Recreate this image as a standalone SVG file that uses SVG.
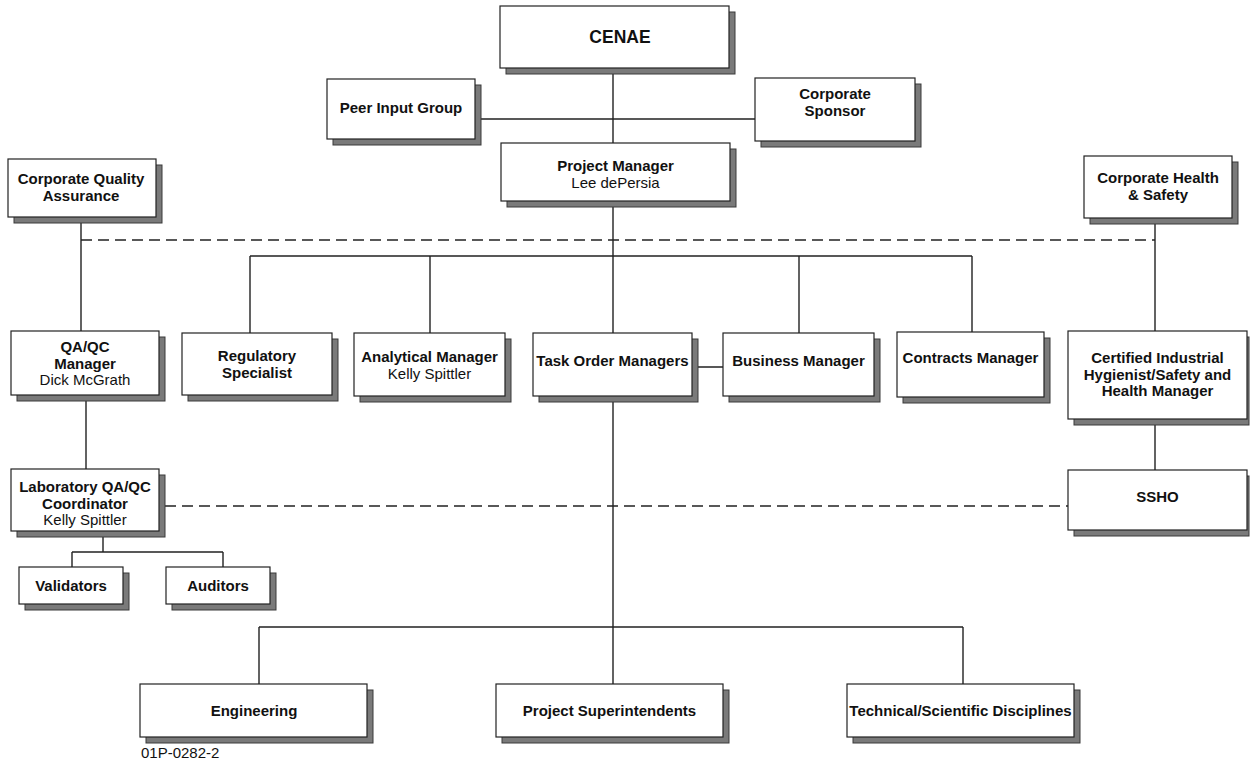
<svg xmlns="http://www.w3.org/2000/svg" width="1251" height="761" viewBox="0 0 1251 761">
<defs>
<style>
.sh{fill:#7a7a7a;stroke:#3a3a3a;stroke-width:1}
.bx{fill:#fff;stroke:#222;stroke-width:1.2}
.b{font-family:"Liberation Sans",Arial,sans-serif;font-weight:bold;font-size:15px;fill:#111;text-anchor:middle}
.r{font-family:"Liberation Sans",Arial,sans-serif;font-size:15px;fill:#111;text-anchor:middle}
.ln{stroke:#222;stroke-width:1.4;fill:none}
.dl{stroke:#222;stroke-width:1.4;fill:none;stroke-dasharray:11,6}
</style>
</defs>
<rect width="1251" height="761" fill="#fff"/>
<g id="connectors">
<path class="ln" d="M613 68V143M613 201V333M613 396V684M475 119H755"/>
<path class="ln" d="M250 256H972M250 256V333M430 256V333M799 256V333M972 256V332M692 367H723"/>
<path class="ln" d="M81 217V331M86 395V469M103 531V552M72 552H223M72 552V567M223 552V567"/>
<path class="ln" d="M1155 218V331M1155 419V470"/>
<path class="ln" d="M259 627H963M259 627V684M963 627V684"/>
<path class="dl" d="M81 240H1155"/>
<path class="dl" d="M165 506H1068"/>
</g>
<g id="cenae"><rect class="sh" x="506" y="12" width="229" height="62"/><rect class="bx" x="500" y="6" width="229" height="62"/><text class="b" x="620" y="43" style="font-size:17.5px">CENAE</text></g>
<g id="peer"><rect class="sh" x="333" y="85" width="148" height="60"/><rect class="bx" x="327" y="79" width="148" height="60"/><text class="b" x="401" y="113">Peer Input Group</text></g>
<g id="sponsor"><rect class="sh" x="761" y="84" width="160" height="63"/><rect class="bx" x="755" y="78" width="160" height="63"/><text class="b" x="835" y="99">Corporate</text><text class="b" x="835" y="116">Sponsor</text></g>
<g id="pm"><rect class="sh" x="507" y="149" width="229" height="58"/><rect class="bx" x="501" y="143" width="229" height="58"/><text class="b" x="615.5" y="171">Project Manager</text><text class="r" x="615.5" y="188">Lee dePersia</text></g>
<g id="corpqa"><rect class="sh" x="14" y="165" width="148" height="58"/><rect class="bx" x="8" y="159" width="148" height="58"/><text class="b" x="81" y="184">Corporate Quality</text><text class="b" x="81" y="201">Assurance</text></g>
<g id="corphs"><rect class="sh" x="1090" y="162" width="148" height="62"/><rect class="bx" x="1084" y="156" width="148" height="62"/><text class="b" x="1158" y="183">Corporate Health</text><text class="b" x="1158" y="200">&amp; Safety</text></g>
<g id="qaqc"><rect class="sh" x="17" y="337" width="148" height="64"/><rect class="bx" x="11" y="331" width="148" height="64"/><text class="b" x="85" y="352">QA/QC</text><text class="b" x="85" y="368.5">Manager</text><text class="r" x="85" y="385">Dick McGrath</text></g>
<g id="regulatory"><rect class="sh" x="188" y="339" width="150" height="62"/><rect class="bx" x="182" y="333" width="150" height="62"/><text class="b" x="257" y="361">Regulatory</text><text class="b" x="257" y="378">Specialist</text></g>
<g id="analytical"><rect class="sh" x="360" y="339" width="151" height="63"/><rect class="bx" x="354" y="333" width="151" height="63"/><text class="b" x="429.5" y="362">Analytical Manager</text><text class="r" x="429.5" y="379">Kelly Spittler</text></g>
<g id="tom"><rect class="sh" x="539" y="339" width="159" height="63"/><rect class="bx" x="533" y="333" width="159" height="63"/><text class="b" x="612.5" y="366">Task Order Managers</text></g>
<g id="business"><rect class="sh" x="729" y="339" width="151" height="63"/><rect class="bx" x="723" y="333" width="151" height="63"/><text class="b" x="798.5" y="366">Business Manager</text></g>
<g id="contracts"><rect class="sh" x="903" y="338" width="147" height="65"/><rect class="bx" x="897" y="332" width="147" height="65"/><text class="b" x="970.5" y="363">Contracts Manager</text></g>
<g id="cih"><rect class="sh" x="1074" y="337" width="175" height="88"/><rect class="bx" x="1068" y="331" width="179" height="88"/><text class="b" x="1157.5" y="363">Certified Industrial</text><text class="b" x="1157.5" y="379.5">Hygienist/Safety and</text><text class="b" x="1157.5" y="396">Health Manager</text></g>
<g id="lab"><rect class="sh" x="17" y="475" width="148" height="62"/><rect class="bx" x="11" y="469" width="148" height="62"/><text class="b" x="85" y="492">Laboratory QA/QC</text><text class="b" x="85" y="508.5">Coordinator</text><text class="r" x="85" y="525">Kelly Spittler</text></g>
<g id="ssho"><rect class="sh" x="1074" y="476" width="175" height="60"/><rect class="bx" x="1068" y="470" width="179" height="60"/><text class="b" x="1157.5" y="502">SSHO</text></g>
<g id="validators"><rect class="sh" x="25" y="573" width="104" height="37"/><rect class="bx" x="19" y="567" width="104" height="37"/><text class="b" x="71" y="591">Validators</text></g>
<g id="auditors"><rect class="sh" x="172" y="573" width="104" height="37"/><rect class="bx" x="166" y="567" width="104" height="37"/><text class="b" x="218" y="591">Auditors</text></g>
<g id="engineering"><rect class="sh" x="146" y="690" width="227" height="53"/><rect class="bx" x="140" y="684" width="227" height="53"/><text class="b" x="254" y="716">Engineering</text></g>
<g id="superintendents"><rect class="sh" x="502" y="690" width="227" height="53"/><rect class="bx" x="496" y="684" width="227" height="53"/><text class="b" x="609.5" y="716">Project Superintendents</text></g>
<g id="technical"><rect class="sh" x="853" y="690" width="227" height="53"/><rect class="bx" x="847" y="684" width="227" height="53"/><text class="b" x="960.5" y="716">Technical/Scientific Disciplines</text></g>
<text class="r" x="141" y="758" style="text-anchor:start">01P-0282-2</text>
</svg>
